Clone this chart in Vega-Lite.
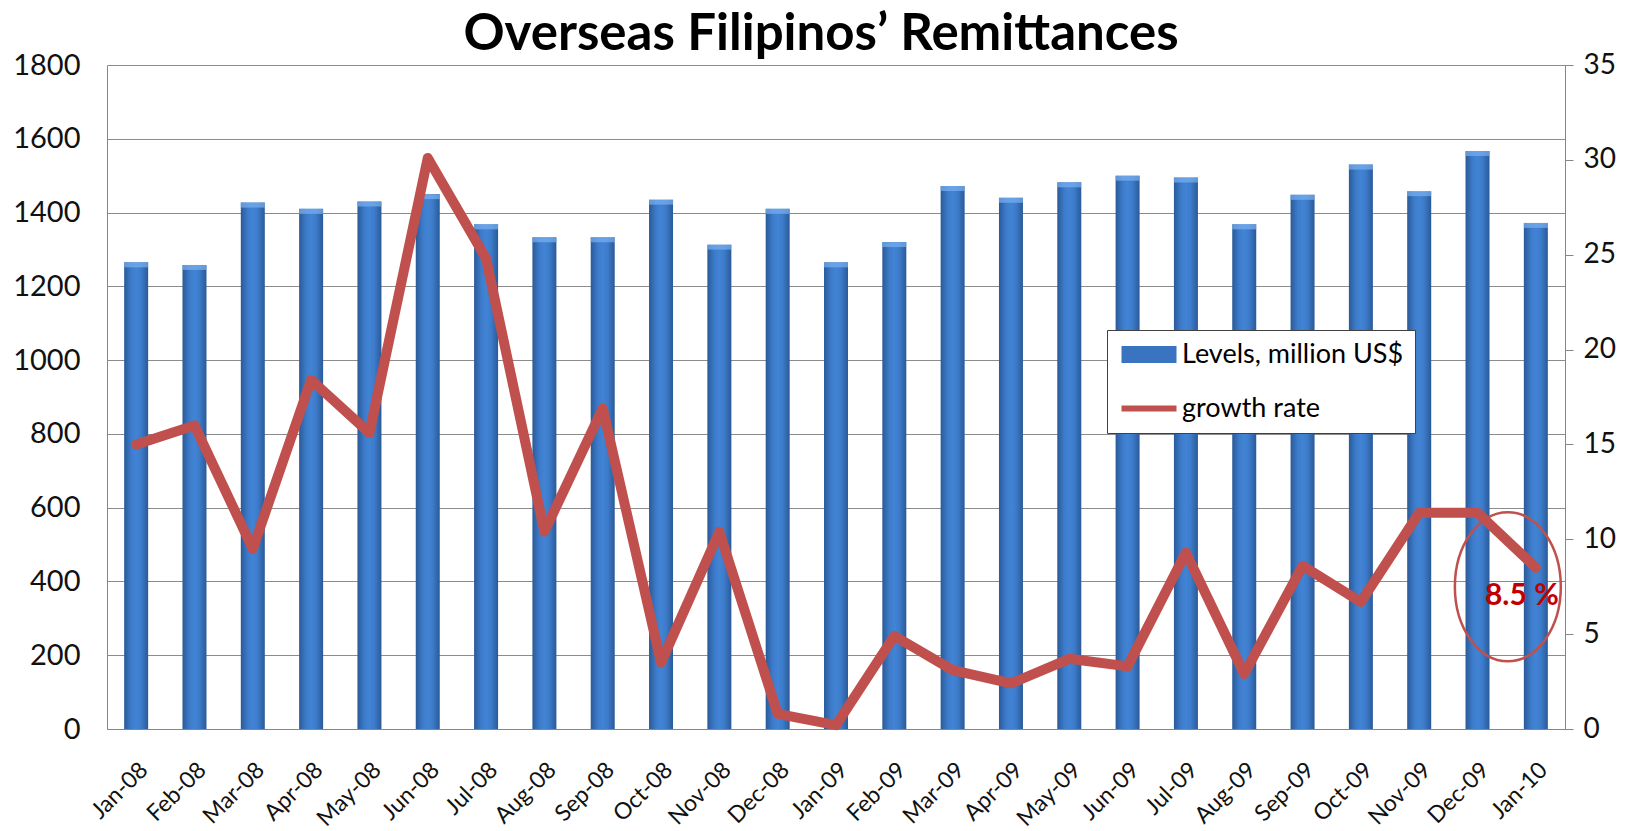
{
  "$schema": "https://vega.github.io/schema/vega-lite/v6.json",
  "width": 1458,
  "height": 664,
  "autosize": {"type": "none"},
  "padding": {"left": 107, "top": 65, "right": 68, "bottom": 102},
  "background": "white",
  "config": {
    "font": "Lato",
    "view": {"stroke": null},
    "axis": {"labelFont": "Lato", "domainColor": "#868686", "gridColor": "#8c8c8c", "labelColor": "#111111"}
  },
  "title": {
    "text": "Overseas Filipinos’ Remittances",
    "font": "Lato",
    "fontSize": 51,
    "fontWeight": "bold",
    "color": "black",
    "anchor": "middle",
    "frame": "group",
    "baseline": "alphabetic",
    "offset": 2,
    "dx": -15,
    "dy": 52
  },
  "datasets": {
    "main": [
      {"month": "Jan-08", "levels": 1265, "growth": 15.0},
      {"month": "Feb-08", "levels": 1258, "growth": 16.0},
      {"month": "Mar-08", "levels": 1427, "growth": 9.5},
      {"month": "Apr-08", "levels": 1410, "growth": 18.4},
      {"month": "May-08", "levels": 1430, "growth": 15.6},
      {"month": "Jun-08", "levels": 1450, "growth": 30.1},
      {"month": "Jul-08", "levels": 1368, "growth": 24.8},
      {"month": "Aug-08", "levels": 1333, "growth": 10.4},
      {"month": "Sep-08", "levels": 1333, "growth": 16.9},
      {"month": "Oct-08", "levels": 1435, "growth": 3.5},
      {"month": "Nov-08", "levels": 1313, "growth": 10.4},
      {"month": "Dec-08", "levels": 1410, "growth": 0.8},
      {"month": "Jan-09", "levels": 1265, "growth": 0.2},
      {"month": "Feb-09", "levels": 1320, "growth": 4.9},
      {"month": "Mar-09", "levels": 1472, "growth": 3.1},
      {"month": "Apr-09", "levels": 1440, "growth": 2.4},
      {"month": "May-09", "levels": 1482, "growth": 3.7},
      {"month": "Jun-09", "levels": 1500, "growth": 3.3},
      {"month": "Jul-09", "levels": 1495, "growth": 9.3},
      {"month": "Aug-09", "levels": 1368, "growth": 2.9},
      {"month": "Sep-09", "levels": 1448, "growth": 8.6},
      {"month": "Oct-09", "levels": 1530, "growth": 6.7},
      {"month": "Nov-09", "levels": 1458, "growth": 11.4},
      {"month": "Dec-09", "levels": 1567, "growth": 11.4},
      {"month": "Jan-10", "levels": 1372, "growth": 8.5}
    ],
    "legend": [
      {"series": "Levels, million US$"},
      {"series": "growth rate"}
    ],
    "note": [
      {"month": "Jan-10", "growth": 8.5, "label": "8.5 %"}
    ]
  },
  "data": {"name": "main"},
  "layer": [
    {
      "layer": [
        {
          "mark": {
            "type": "bar",
            "size": 24,
            "fill": {
              "gradient": "linear", "x1": 0, "y1": 0, "x2": 1, "y2": 0,
              "stops": [
                {"offset": 0, "color": "#2a5a98"},
                {"offset": 0.3, "color": "#3d7ccb"},
                {"offset": 0.5, "color": "#4283d4"},
                {"offset": 0.7, "color": "#3d7ccb"},
                {"offset": 1, "color": "#2a5a98"}
              ]
            }
          },
          "encoding": {
            "x": {
              "field": "month", "type": "nominal", "title": null,
              "scale": {"paddingInner": 0, "paddingOuter": 0, "domain": ["Jan-08","Feb-08","Mar-08","Apr-08","May-08","Jun-08","Jul-08","Aug-08","Sep-08","Oct-08","Nov-08","Dec-08","Jan-09","Feb-09","Mar-09","Apr-09","May-09","Jun-09","Jul-09","Aug-09","Sep-09","Oct-09","Nov-09","Dec-09","Jan-10"]},
              "axis": {"labelAngle": -45, "labelAlign": "right", "labelBaseline": "middle", "labelFontSize": 23, "labelPadding": 37, "labelOffset": 8, "ticks": false, "grid": false, "domainColor": "#868686"}
            },
            "y": {
              "field": "levels", "type": "quantitative", "title": null,
              "scale": {"domain": [0, 1800], "nice": false},
              "axis": {"orient": "left", "format": "d", "values": [0,200,400,600,800,1000,1200,1400,1600,1800], "labelFontSize": 29, "labelPadding": 27, "ticks": false, "grid": true, "gridColor": "#8c8c8c", "domainColor": "#868686"}
            }
          }
        },
        {
          "mark": {"type": "tick", "orient": "horizontal", "size": 24, "thickness": 5, "color": "#7ab1ef", "yOffset": 2.5},
          "encoding": {
            "x": {"field": "month", "type": "nominal", "title": null},
            "y": {"field": "levels", "type": "quantitative", "title": null}
          }
        }
      ]
    },
    {
      "layer": [
        {
          "mark": {"type": "line", "color": "#c0504d", "strokeWidth": 10, "strokeJoin": "round", "strokeCap": "round"},
          "encoding": {
            "x": {"field": "month", "type": "nominal", "title": null},
            "y": {
              "field": "growth", "type": "quantitative", "title": null,
              "scale": {"domain": [0, 35], "nice": false},
              "axis": {"orient": "right", "values": [0,5,10,15,20,25,30,35], "labelFontSize": 28, "labelPadding": 10, "ticks": true, "tickSize": 8, "tickColor": "#868686", "grid": false, "domainColor": "#868686"}
            }
          }
        },
        {
          "data": {"name": "legend"},
          "mark": {"type": "point", "filled": true, "opacity": 0},
          "encoding": {
            "color": {
              "field": "series", "type": "nominal",
              "scale": {"domain": ["Levels, million US$", "growth rate"], "range": ["#3a74c0", "#c0504d"]},
              "legend": {
                "title": null, "orient": "none", "legendX": 1000, "legendY": 265, "direction": "vertical",
                "symbolSize": 400, "labelFont": "Lato", "labelFontSize": 27, "labelColor": "black", "labelOffset": 37,
                "rowPadding": 26, "padding": 11, "strokeColor": "#404040", "fillColor": "white",
                "symbolStrokeWidth": 0, "symbolOpacity": 1, "labelLimit": 400,
                "encode": {"symbols": {"update": {"opacity": {"value": 1}, "strokeWidth": {"value": 0}}}}
              }
            },
            "shape": {
              "field": "series", "type": "nominal",
              "scale": {"domain": ["Levels, million US$", "growth rate"], "range": ["M-1,-0.85H4.5V0.85H-1Z", "M-1,-0.3H4.5V0.3H-1Z"]}
            }
          }
        },
        {
          "data": {"name": "note"},
          "mark": {
            "type": "point",
            "shape": "M0,-1C0.393,-1 0.711,-0.552 0.711,0C0.711,0.552 0.393,1 0,1C-0.393,1 -0.711,0.552 -0.711,0C-0.711,-0.552 -0.393,-1 0,-1Z",
            "size": 22201, "filled": false, "stroke": "#c0504d", "strokeWidth": 2.5, "opacity": 1,
            "xOffset": -28, "yOffset": 19
          },
          "encoding": {
            "x": {"field": "month", "type": "nominal", "title": null},
            "y": {"field": "growth", "type": "quantitative", "title": null}
          }
        },
        {
          "data": {"name": "note"},
          "mark": {"type": "text", "font": "Lato", "fontSize": 30, "fontWeight": "bold", "color": "#c00000", "align": "center", "baseline": "middle", "xOffset": -14, "yOffset": 28},
          "encoding": {
            "x": {"field": "month", "type": "nominal", "title": null},
            "y": {"field": "growth", "type": "quantitative", "title": null},
            "text": {"field": "label"}
          }
        }
      ]
    }
  ],
  "resolve": {"scale": {"y": "independent"}}
}
